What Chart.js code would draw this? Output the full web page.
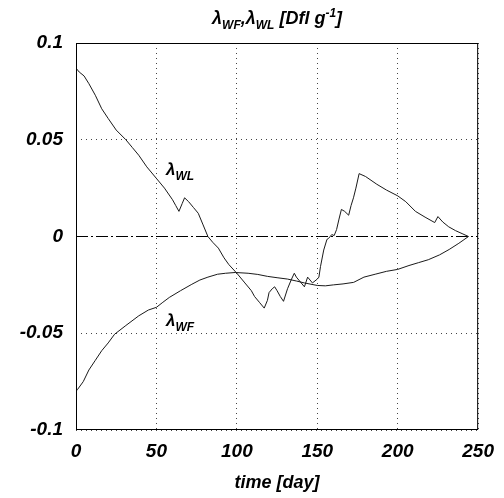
<!DOCTYPE html>
<html>
<head>
<meta charset="utf-8">
<script src="https://cdn.jsdelivr.net/npm/chart.js@4"></script>
<style>
  html, body { margin: 0; padding: 0; background: #fff; }
  canvas { display: block; }
</style>
</head>
<body>
<canvas id="grafico" width="504" height="498"></canvas>
<script>
// time axis (days) and values
const tempoWL = [0, 2, 5, 8, 12, 16, 20, 25, 31, 35, 39, 44, 50, 55, 60, 62, 64, 66, 67.5, 70, 73, 76, 79, 82, 85, 88.5, 92, 95, 100, 105, 109, 111, 114, 117, 119, 120, 122, 123.5, 125, 127, 129, 131.5, 134, 135.7, 137, 139, 142, 144, 147, 150, 151, 152, 154, 156, 157, 159, 160.5, 162, 163.5, 165, 167, 169.5, 171, 172.5, 174, 176, 180, 187, 193, 200, 205, 211, 217, 223, 225, 228, 231.7, 236, 240, 244];
const lambdaWL = [0.087, 0.085, 0.083, 0.079, 0.073, 0.066, 0.061, 0.055, 0.050, 0.046, 0.042, 0.036, 0.030, 0.025, 0.019, 0.016, 0.013, 0.017, 0.020, 0.018, 0.015, 0.012, 0.006, 0.000, -0.003, -0.006, -0.011, -0.0145, -0.019, -0.024, -0.028, -0.031, -0.034, -0.037, -0.033, -0.029, -0.027, -0.026, -0.028, -0.031, -0.0335, -0.027, -0.022, -0.019, -0.021, -0.023, -0.026, -0.021, -0.024, -0.022, -0.021, -0.0155, -0.007, -0.0015, -0.001, 0.001, 0.0005, 0.0036, 0.009, 0.014, 0.013, 0.011, 0.016, 0.020, 0.025, 0.0325, 0.031, 0.027, 0.024, 0.021, 0.018, 0.013, 0.010, 0.0072, 0.0103, 0.0075, 0.005, 0.003, 0.0015, 0];

const tempoWF = [0, 1, 4.5, 8, 12, 16, 20, 24, 31, 39, 45, 50, 54, 58, 65, 72, 77, 82, 88, 93, 99, 107, 113, 119, 125, 131.5, 137, 142, 150, 155, 160, 166, 172.6, 179, 186, 193, 200, 207, 213, 219, 226, 232, 238, 244];
const lambdaWF = [-0.080, -0.079, -0.075, -0.069, -0.064, -0.059, -0.055, -0.0505, -0.046, -0.041, -0.038, -0.0366, -0.034, -0.0315, -0.028, -0.0247, -0.0225, -0.021, -0.0195, -0.019, -0.0186, -0.019, -0.0196, -0.0206, -0.0213, -0.022, -0.023, -0.024, -0.0253, -0.0255, -0.025, -0.0245, -0.0237, -0.021, -0.0195, -0.018, -0.017, -0.015, -0.0135, -0.012, -0.0095, -0.0067, -0.0035, 0];

// zero reference line
const tempoZero = [0, 250];
const valorZero = [0, 0];

const ticksX = [0, 50, 100, 150, 200, 250];
const ticksY = [0.1, 0.05, 0, -0.05, -0.1];
const rotulosY = ['0.1', '0.05', '0', '-0.05', '-0.1'];

const FONTE = '"Liberation Sans", Arial, sans-serif';

function pontos(xs, ys) {
  return xs.map((x, i) => ({ x: x, y: ys[i] }));
}

// draws text with sub/superscripts (title and curve labels)
function textoRico(ctx, partes, x, y, tam, alinhar) {
  ctx.save();
  ctx.textBaseline = 'alphabetic';
  ctx.textAlign = 'left';
  ctx.fillStyle = '#000';
  let largura = 0;
  const med = partes.map(p => {
    const t = p.tipo ? Math.round(tam * 0.68) : tam;
    ctx.font = `italic bold ${t}px ${FONTE}`;
    const w = ctx.measureText(p.t).width;
    largura += w;
    return { p, t, w };
  });
  let cx = alinhar === 'center' ? x - largura / 2 : x;
  med.forEach(m => {
    ctx.font = `italic bold ${m.t}px ${FONTE}`;
    let dy = 0;
    if (m.p.tipo === 'sub') dy = tam * 0.3;
    if (m.p.tipo === 'sup') dy = -tam * 0.4;
    ctx.fillText(m.p.t, cx, y + dy);
    cx += m.w;
  });
  ctx.restore();
}

const pluginTextos = {
  id: 'textos',
  afterDraw(chart) {
    const { ctx, chartArea, scales } = chart;
    // frame
    ctx.save();
    ctx.strokeStyle = '#000';
    ctx.lineWidth = 1;
    ctx.strokeRect(chartArea.left + 0.5, chartArea.top + 0.5, chartArea.right - chartArea.left - 1, chartArea.bottom - chartArea.top - 1);
    ctx.restore();

    const cx = (chartArea.left + chartArea.right) / 2;
    textoRico(ctx, [
      { t: 'λ' }, { t: 'WF', tipo: 'sub' }, { t: ',λ' }, { t: 'WL', tipo: 'sub' },
      { t: ' [Dfl g' }, { t: '-1', tipo: 'sup' }, { t: ']' }
    ], cx, 24, 18, 'center');

    textoRico(ctx, [{ t: 'λ' }, { t: 'WL', tipo: 'sub' }],
      scales.x.getPixelForValue(56), scales.y.getPixelForValue(0.032), 17, 'left');
    textoRico(ctx, [{ t: 'λ' }, { t: 'WF', tipo: 'sub' }],
      scales.x.getPixelForValue(56), scales.y.getPixelForValue(-0.046), 17, 'left');
  }
};

const ctx = document.getElementById('grafico').getContext('2d');
new Chart(ctx, {
  type: 'line',
  data: {
    datasets: [
      {
        label: 'λWL',
        data: pontos(tempoWL, lambdaWL),
        borderColor: '#1a1a1a',
        borderWidth: 1,
        pointRadius: 0,
        tension: 0
      },
      {
        label: 'λWF',
        data: pontos(tempoWF, lambdaWF),
        borderColor: '#1a1a1a',
        borderWidth: 1,
        pointRadius: 0,
        tension: 0
      },
      {
        label: 'zero',
        data: pontos(tempoZero, valorZero),
        borderColor: '#000',
        borderWidth: 1,
        borderDash: [12, 3, 2, 3],
        pointRadius: 0
      }
    ]
  },
  options: {
    responsive: false,
    animation: false,
    layout: { padding: { top: 43, right: 21, left: 0, bottom: 0 } },
    plugins: {
      legend: { display: false },
      title: { display: false },
      tooltip: { enabled: false }
    },
    scales: {
      x: {
        type: 'linear',
        min: 0,
        max: 250,
        afterBuildTicks: s => { s.ticks = ticksX.map(v => ({ value: v })); },
        afterFit: s => { s.height = 68; },
        grid: { color: '#444', lineWidth: 1, drawTicks: false },
        border: { display: false, dash: [1, 4] },
        ticks: {
          color: '#000',
          padding: 10,
          font: { family: FONTE, size: 19, style: 'italic', weight: 'bold' }
        },
        title: {
          display: true,
          text: 'time [day]',
          color: '#000',
          padding: { top: 0, bottom: 4 },
          font: { family: FONTE, size: 18, style: 'italic', weight: 'bold' }
        }
      },
      y: {
        min: -0.1,
        max: 0.1,
        afterBuildTicks: s => { s.ticks = ticksY.map(v => ({ value: v })); },
        afterFit: s => { s.width = 76; },
        grid: { color: '#444', lineWidth: 1, drawTicks: false },
        border: { display: false, dash: [1, 4] },
        ticks: {
          color: '#000',
          padding: 13,
          font: { family: FONTE, size: 19, style: 'italic', weight: 'bold' },
          callback: v => {
            const i = ticksY.findIndex(t => Math.abs(t - v) < 1e-9);
            return i >= 0 ? rotulosY[i] : '';
          }
        }
      }
    }
  },
  plugins: [pluginTextos]
});
</script>
</body>
</html>
